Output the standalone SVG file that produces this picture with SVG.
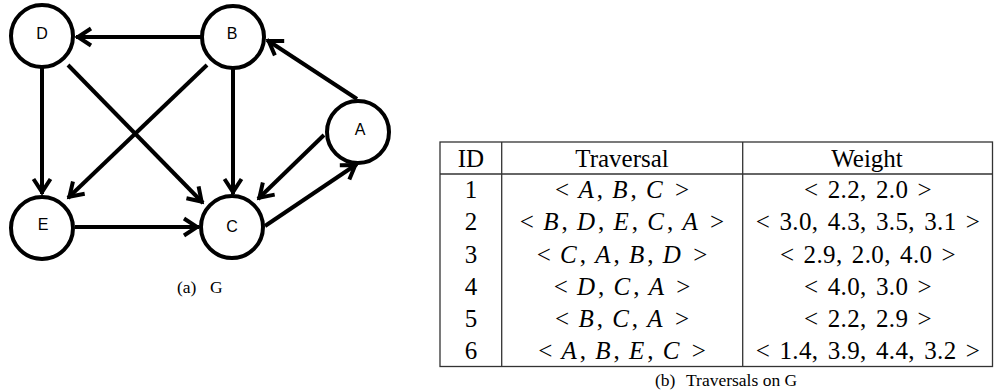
<svg xmlns="http://www.w3.org/2000/svg" width="994" height="390" viewBox="0 0 994 390">
<style>
.node circle{fill:#fff;stroke:#000;stroke-width:4}
.node text{font-family:"Liberation Sans",Arial,sans-serif;font-size:16px;text-anchor:middle;fill:#000}
.edge{stroke:#000;stroke-width:4;fill:none;marker-end:url(#arr)}
.cap{font-family:"Liberation Serif","Times New Roman",serif;font-size:17.5px;fill:#000}
.t{font-family:"Liberation Serif","Times New Roman",serif;font-size:25px;text-anchor:middle;fill:#000}
.tr{word-spacing:3px}
.tr .i{letter-spacing:3px}
.w{word-spacing:2.5px;letter-spacing:0.4px}
.i{font-style:italic}
.grid{stroke:#333;stroke-width:1.3;fill:none}
</style>
<defs>
<marker id="arr" markerUnits="userSpaceOnUse" markerWidth="30" markerHeight="30" viewBox="-20 -15 30 30" refX="0" refY="0" orient="auto" overflow="visible">
<path d="M-15,-8.5 L-2,0 L-15,8.5" fill="none" stroke="#000" stroke-width="4" stroke-linejoin="miter"/>
</marker>
</defs>
<g id="connectors">
<line class="edge" x1="201" y1="37" x2="76" y2="37"/>
<line class="edge" x1="357" y1="99" x2="267" y2="40"/>
<line class="edge" x1="42" y1="68" x2="42" y2="194"/>
<line class="edge" x1="68" y1="65" x2="203" y2="203"/>
<line class="edge" x1="207" y1="65" x2="68" y2="198"/>
<line class="edge" x1="233" y1="69" x2="233" y2="194"/>
<line class="edge" x1="324" y1="135" x2="258" y2="199"/>
<line class="edge" x1="265" y1="226" x2="357" y2="164"/>
<line class="edge" x1="75" y1="227" x2="199" y2="227"/>
</g>
<g id="node-D" class="node"><circle cx="42" cy="36" r="31"/><text x="42" y="39">D</text></g>
<g id="node-B" class="node"><circle cx="233" cy="37" r="31"/><text x="232" y="39">B</text></g>
<g id="node-A" class="node"><circle cx="358" cy="132" r="31"/><text x="360" y="135">A</text></g>
<g id="node-E" class="node"><circle cx="42" cy="228" r="31"/><text x="43" y="230">E</text></g>
<g id="node-C" class="node"><circle cx="232" cy="227" r="31"/><text x="232" y="232">C</text></g>
<text class="cap" y="293"><tspan x="177">(a)</tspan><tspan x="210">G</tspan></text>
<g id="table">
<rect class="grid" x="440" y="142" width="552.5" height="224.5"/>
<line class="grid" x1="501.7" y1="142" x2="501.7" y2="366.5"/>
<line class="grid" x1="742.7" y1="142" x2="742.7" y2="366.5"/>
<line class="grid" x1="440" y1="174" x2="992.5" y2="174"/>
<text class="t" x="471" y="166.5">ID</text>
<text class="t" x="622" y="166.5">Traversal</text>
<text class="t" x="867" y="166.5">Weight</text>
<text class="t" x="471" y="198.3">1</text>
<text class="t" x="471" y="230.4">2</text>
<text class="t" x="471" y="262.5">3</text>
<text class="t" x="471" y="294.6">4</text>
<text class="t" x="471" y="326.7">5</text>
<text class="t" x="471" y="358.8">6</text>
<text class="t tr" x="622" y="198.3">&lt; <tspan class="i">A</tspan>, <tspan class="i">B</tspan>, <tspan class="i">C</tspan> &gt;</text>
<text class="t tr" x="622" y="230.4">&lt; <tspan class="i">B</tspan>, <tspan class="i">D</tspan>, <tspan class="i">E</tspan>, <tspan class="i">C</tspan>, <tspan class="i">A</tspan> &gt;</text>
<text class="t tr" x="622" y="262.5">&lt; <tspan class="i">C</tspan>, <tspan class="i">A</tspan>, <tspan class="i">B</tspan>, <tspan class="i">D</tspan> &gt;</text>
<text class="t tr" x="622" y="294.6">&lt; <tspan class="i">D</tspan>, <tspan class="i">C</tspan>, <tspan class="i">A</tspan> &gt;</text>
<text class="t tr" x="622" y="326.7">&lt; <tspan class="i">B</tspan>, <tspan class="i">C</tspan>, <tspan class="i">A</tspan> &gt;</text>
<text class="t tr" x="622" y="358.8">&lt; <tspan class="i">A</tspan>, <tspan class="i">B</tspan>, <tspan class="i">E</tspan>, <tspan class="i">C</tspan> &gt;</text>
<text class="t w" x="868" y="198.3">&lt; 2.2, 2.0 &gt;</text>
<text class="t w" x="868" y="230.4">&lt; 3.0, 4.3, 3.5, 3.1 &gt;</text>
<text class="t w" x="868" y="262.5">&lt; 2.9, 2.0, 4.0 &gt;</text>
<text class="t w" x="868" y="294.6">&lt; 4.0, 3.0 &gt;</text>
<text class="t w" x="868" y="326.7">&lt; 2.2, 2.9 &gt;</text>
<text class="t w" x="868" y="358.8">&lt; 1.4, 3.9, 4.4, 3.2 &gt;</text>
</g>
<text class="cap" y="386"><tspan x="655">(b)</tspan><tspan x="686">Traversals on G</tspan></text>
</svg>
